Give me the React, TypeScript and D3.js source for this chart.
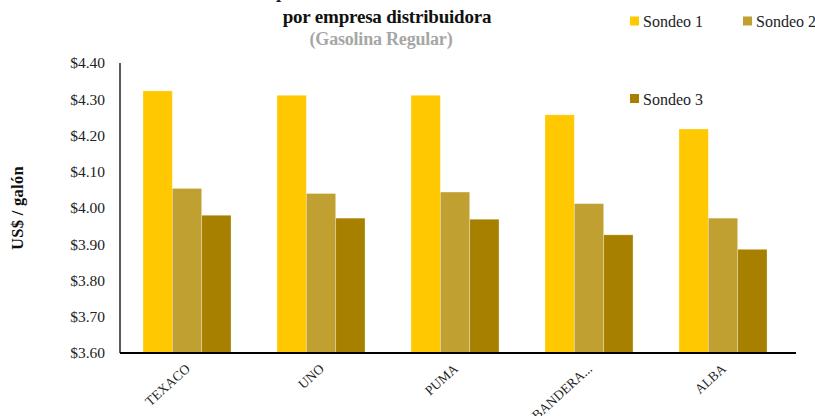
import React from "react";
import * as d3 from "d3";

const empresas = ["TEXACO", "UNO", "PUMA", "BANDERA...", "ALBA"];
const sondeos = ["Sondeo 1", "Sondeo 2", "Sondeo 3"];
const sondeo1 = [4.323, 4.311, 4.311, 4.257, 4.218];
const sondeo2 = [4.054, 4.04, 4.044, 4.012, 3.972];
const sondeo3 = [3.98, 3.972, 3.969, 3.926, 3.886];
const yTicks = [3.6, 3.7, 3.8, 3.9, 4.0, 4.1, 4.2, 4.3, 4.4];

const colors = ["#FFC800", "#C0A030", "#A88000"];
const W = 815;
const H = 416;
const margin = { top: 63, right: 25, bottom: 63, left: 120 };
const font = "'Liberation Serif', 'Times New Roman', serif";

export default function App() {
  const series = [sondeo1, sondeo2, sondeo3];

  const x = d3
    .scaleBand()
    .domain(empresas)
    .range([margin.left, 790])
    .paddingInner(0.343)
    .paddingOuter(0.1715);

  const x1 = d3
    .scaleBand()
    .domain(sondeos)
    .range([0, x.bandwidth()]);

  const y = d3
    .scaleLinear()
    .domain([3.6, 4.4])
    .range([H - margin.bottom, margin.top]);

  return (
    <svg
      width={W}
      height={H}
      style={{ position: "absolute", left: 0, top: 0, background: "#fff" }}
      fontFamily={font}
    >
      {/* title (first line is cut at the top of the image) */}
      <text x={387} y={-2} textAnchor="middle" fontSize={19} fontWeight="bold" fill="#222">
        Precio promedio en estaciones de servicio
      </text>
      <text x={387} y={23} textAnchor="middle" fontSize={19} fontWeight="bold" fill="#111" letterSpacing={-0.2}>
        por empresa distribuidora
      </text>
      <text x={381} y={45} textAnchor="middle" fontSize={18} fontWeight="bold" fill="#A6A6A6" letterSpacing={-0.2}>
        (Gasolina Regular)
      </text>

      {/* bars */}
      {series.map((vals, si) => (
        <g key={si} fill={colors[si]}>
          {vals.map((v, i) => (
            <rect
              key={i}
              x={x(empresas[i])! + x1(sondeos[si])!}
              y={y(v)}
              width={x1.bandwidth()}
              height={y(3.6) - y(v)}
              stroke="#fff"
              strokeOpacity={0.35}
              strokeWidth={0.8}
            />
          ))}
        </g>
      ))}

      {/* y axis */}
      <line x1={margin.left} x2={margin.left} y1={y(4.4)} y2={y(3.6)} stroke="#000" strokeWidth={1.3} />
      {yTicks.map((t) => (
        <text
          key={t}
          x={105}
          y={y(t)}
          dy="0.35em"
          textAnchor="end"
          fontSize={15.5}
          fill="#222"
        >
          {d3.format("$.2f")(t)}
        </text>
      ))}
      <text
        transform={`translate(23,${208}) rotate(-90)`}
        textAnchor="middle"
        fontSize={16.5}
        fontWeight="bold"
        fill="#111"
        letterSpacing={0.3}
      >
        US$ / galón
      </text>

      {/* x axis */}
      <line x1={margin.left} x2={796} y1={y(3.6)} y2={y(3.6)} stroke="#000" strokeWidth={2} />
      {empresas.map((e) => (
        <text
          key={e}
          transform={`translate(${x(e)! + x.bandwidth() / 2 + 4},${370}) rotate(-42)`}
          textAnchor="end"
          fontSize={13.5}
          fill="#222"
        >
          {e}
        </text>
      ))}

      {/* legend */}
      {sondeos.map((s, i) => {
        const lx = i === 1 ? 743 : 630;
        const ly = i === 2 ? 94 : 16.5;
        return (
          <g key={s}>
            <rect x={lx} y={ly} width={9} height={9} fill={colors[i]} />
            <text x={lx + 13} y={ly + 10.5} fontSize={16} fill="#222">
              {s}
            </text>
          </g>
        );
      })}
    </svg>
  );
}
